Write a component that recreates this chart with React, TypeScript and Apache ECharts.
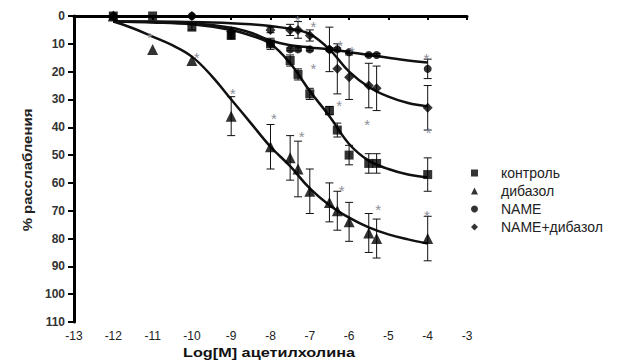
import React, { useEffect, useRef } from "react";
import * as echarts from "echarts";

// ---- data ----
const ctrlDose = [-12, -11, -10, -9, -8, -7.5, -7.3, -7, -6.5, -6.3, -6, -5.5, -5.3, -4];
const ctrlResp = [0, 0, 4, 7, 10, 16, 21, 28, 34, 41, 50, 53, 53, 57];
const ctrlErr = [0, 0, 1, 1, 2, 2, 2, 2, 1.5, 2.5, 3.5, 3.5, 3.5, 6];

const dibDose = [-12, -11, -10, -9, -8, -7.5, -7.3, -7, -6.5, -6.3, -6, -5.5, -5.3, -4];
const dibResp = [0, 12, 16, 36, 47, 51, 55, 63, 67, 70, 74, 78, 80, 80];
const dibErr = [0, 0, 0, 7, 8, 8, 10, 8, 7, 7, 7, 7, 7, 8];

const nameDose = [-12, -10, -9, -8, -7.5, -7.3, -7, -6.5, -6.3, -6, -5.5, -5.3, -4];
const nameResp = [0, 0, 7, 10, 12, 12, 12, 12, 12, 13, 14, 14, 19];
const nameErr = [0, 0, 0, 0, 0.5, 0.5, 0.5, 0.5, 0.5, 0.5, 0.5, 0.5, 3.5];

const ndDose = [-12, -10, -9, -8, -7.5, -7.3, -7, -6.5, -6.3, -6, -5.5, -5.3, -4];
const ndResp = [0, 0, 5.5, 5, 5, 5, 7, 12, 19, 22, 25, 26, 33];
const ndErr = [0, 0, 0, 1, 2, 3, 2, 8, 9, 8, 8, 8, 8];

// fitted curves
const ctrlCurveX = [-12, -11, -10, -9, -8.5, -8, -7.5, -7, -6.5, -6, -5.5, -5, -4.5, -4];
const ctrlCurveY = [2, 2.3, 3, 5, 7, 10, 17, 27, 36, 46, 52, 55, 57, 58];
const dibCurveX = [-12, -11.5, -11, -10.5, -10, -9.5, -9, -8.5, -8, -7.5, -7, -6.5, -6, -5.5, -5, -4.5, -4];
const dibCurveY = [2, 4.4, 7.4, 10.5, 14.6, 21.5, 30, 38.5, 47, 54, 62, 68, 72.5, 76, 78.5, 80.3, 81.8];
const nameCurveX = [-12, -11, -10, -9, -8.5, -8, -7.5, -7, -6.5, -6, -5.5, -5, -4.5, -4];
const nameCurveY = [2, 2.2, 2.6, 4.2, 6, 8.8, 10.5, 11.3, 12, 13, 14, 15, 16, 16.7];
const ndCurveX = [-12, -11, -10, -9, -8.5, -8, -7.5, -7, -6.5, -6, -5.5, -5, -4.5, -4];
const ndCurveY = [2, 2, 2.2, 2.6, 3, 3.6, 4.6, 6.5, 12, 20, 25.5, 29, 31.3, 32.5];

// significance asterisks [x, y]
const starX = [-11.07, -9.88, -8.96, -7.91, -7.21, -7.31, -6.91, -6.91, -6.23, -5.93, -6.25, -5.54, -4.03, -3.98, -6.19, -5.26, -4.02];
const starY = [6.2, 13.4, 26.6, 35.3, 41.8, 0, 2.5, 17.6, 9, 11.3, 30.8, 37.4, 13.7, 40.4, 61.4, 68, 70.4];

const xTicksMin = -13;
const xTicksMax = -3;
const yTicksMin = 0;
const yTicksMax = 110;

const names = ["контроль", "дибазол", "NAME", "NAME+дибазол"];
const xTitle = "Log[M] ацетилхолина";
const yTitle = "% расслабления";

const FONT = "'Liberation Sans', Arial, sans-serif";

function pairs(xs: number[], ys: number[]) {
  return xs.map((x, i) => [x, ys[i]]);
}
function errs(xs: number[], ys: number[], es: number[]) {
  const out: number[][] = [];
  xs.forEach((x, i) => {
    if (es[i] > 0) out.push([x, ys[i] - es[i], ys[i] + es[i]]);
  });
  return out;
}

export default function App() {
  const ref = useRef<HTMLDivElement>(null);
  useEffect(() => {
    if (!ref.current) return;
    const chart = echarts.init(ref.current, undefined, { renderer: "svg" });

    const errRender = (params: any, api: any) => {
      const x = api.value(0);
      const p1 = api.coord([x, api.value(1)]);
      const p2 = api.coord([x, api.value(2)]);
      const w = 4;
      const st = { stroke: "#111", lineWidth: 1 };
      return {
        type: "group",
        children: [
          { type: "line", shape: { x1: p1[0], y1: p1[1], x2: p2[0], y2: p2[1] }, style: st },
          { type: "line", shape: { x1: p1[0] - w, y1: p1[1], x2: p1[0] + w, y2: p1[1] }, style: st },
          { type: "line", shape: { x1: p2[0] - w, y1: p2[1], x2: p2[0] + w, y2: p2[1] }, style: st },
        ],
      };
    };

    const curve = (xs: number[], ys: number[]) => ({
      type: "line",
      data: pairs(xs, ys),
      smooth: 0.4,
      symbol: "none",
      lineStyle: { color: "#111", width: 2.5 },
      silent: true,
      z: 2,
    });
    const errSeries = (xs: number[], ys: number[], es: number[]) => ({
      type: "custom",
      renderItem: errRender,
      data: errs(xs, ys, es),
      encode: { x: 0, y: [1, 2] },
      silent: true,
      z: 3,
    });
    const marks = (name: string, xs: number[], ys: number[], symbol: string, size: number) => ({
      type: "scatter",
      name,
      data: pairs(xs, ys),
      symbol,
      symbolSize: size,
      itemStyle: { color: "#000" },
      z: 4,
    });

    const axisLine = { show: true, lineStyle: { color: "#000", width: 3 } };

    chart.setOption({
      animation: false,
      grid: { left: 74, top: 16, right: 160, bottom: 38, containLabel: false },
      legend: {
        orient: "vertical",
        left: 466,
        top: 161,
        itemWidth: 7,
        itemHeight: 7,
        itemGap: 4,
        selectedMode: false,
        data: names,
        textStyle: { fontFamily: FONT, fontSize: 14, color: "#222", lineHeight: 14, padding: [0, 0, 0, 18] },
      },
      xAxis: {
        type: "value",
        min: xTicksMin,
        max: xTicksMax,
        interval: 1,
        axisLine,
        axisTick: { show: true, length: 4, lineStyle: { color: "#000", width: 2 } },
        minorTick: { show: true, splitNumber: 5, length: 2, lineStyle: { color: "#000", width: 1 } },
        splitLine: { show: false },
        axisLabel: { fontFamily: FONT, fontSize: 12, color: "#222", margin: 8 },
      },
      yAxis: {
        type: "value",
        min: yTicksMin,
        max: yTicksMax,
        interval: 10,
        inverse: true,
        axisLine,
        axisTick: { show: true, length: 6, lineStyle: { color: "#000", width: 2 } },
        splitLine: { show: false },
        axisLabel: { fontFamily: FONT, fontSize: 12, fontWeight: "bold", color: "#333", margin: 9 },
      },
      graphic: [
        {
          type: "text",
          x: 27,
          y: 170,
          rotation: Math.PI / 2,
          scaleX: 1.15,
          style: {
            text: yTitle,
            fontFamily: FONT,
            fontSize: 13,
            fontWeight: "bold",
            fill: "#222",
            align: "center",
            verticalAlign: "middle",
          },
        },
        {
          type: "text",
          x: 269,
          y: 353,
          scaleX: 1.3,
          style: {
            text: xTitle,
            fontFamily: FONT,
            fontSize: 12.5,
            fontWeight: "bold",
            fill: "#111",
            align: "center",
            verticalAlign: "middle",
          },
        },
      ],
      series: [
        curve(ctrlCurveX, ctrlCurveY),
        curve(dibCurveX, dibCurveY),
        curve(nameCurveX, nameCurveY),
        curve(ndCurveX, ndCurveY),
        errSeries(ctrlDose, ctrlResp, ctrlErr),
        errSeries(dibDose, dibResp, dibErr),
        errSeries(nameDose, nameResp, nameErr),
        errSeries(ndDose, ndResp, ndErr),
        marks(names[0], ctrlDose, ctrlResp, "rect", 9),
        marks(names[1], dibDose, dibResp, "triangle", 11),
        marks(names[2], nameDose, nameResp, "circle", 8),
        marks(names[3], ndDose, ndResp, "diamond", 10),
        {
          type: "custom",
          silent: true,
          z: 5,
          data: pairs(starX, starY),
          encode: { x: 0, y: 1 },
          renderItem: (params: any, api: any) => {
            const p = api.coord([api.value(0), api.value(1)]);
            return {
              type: "text",
              x: p[0],
              y: p[1] + 4,
              style: {
                text: "*",
                fontFamily: FONT,
                fontSize: 15,
                fill: "#8e9099",
                align: "center",
                verticalAlign: "middle",
              },
            };
          },
        },
      ],
    });
    return () => chart.dispose();
  }, []);

  return (
    <div
      ref={ref}
      style={{ position: "fixed", left: 0, top: 0, width: 627, height: 360, background: "#fff" }}
    />
  );
}
